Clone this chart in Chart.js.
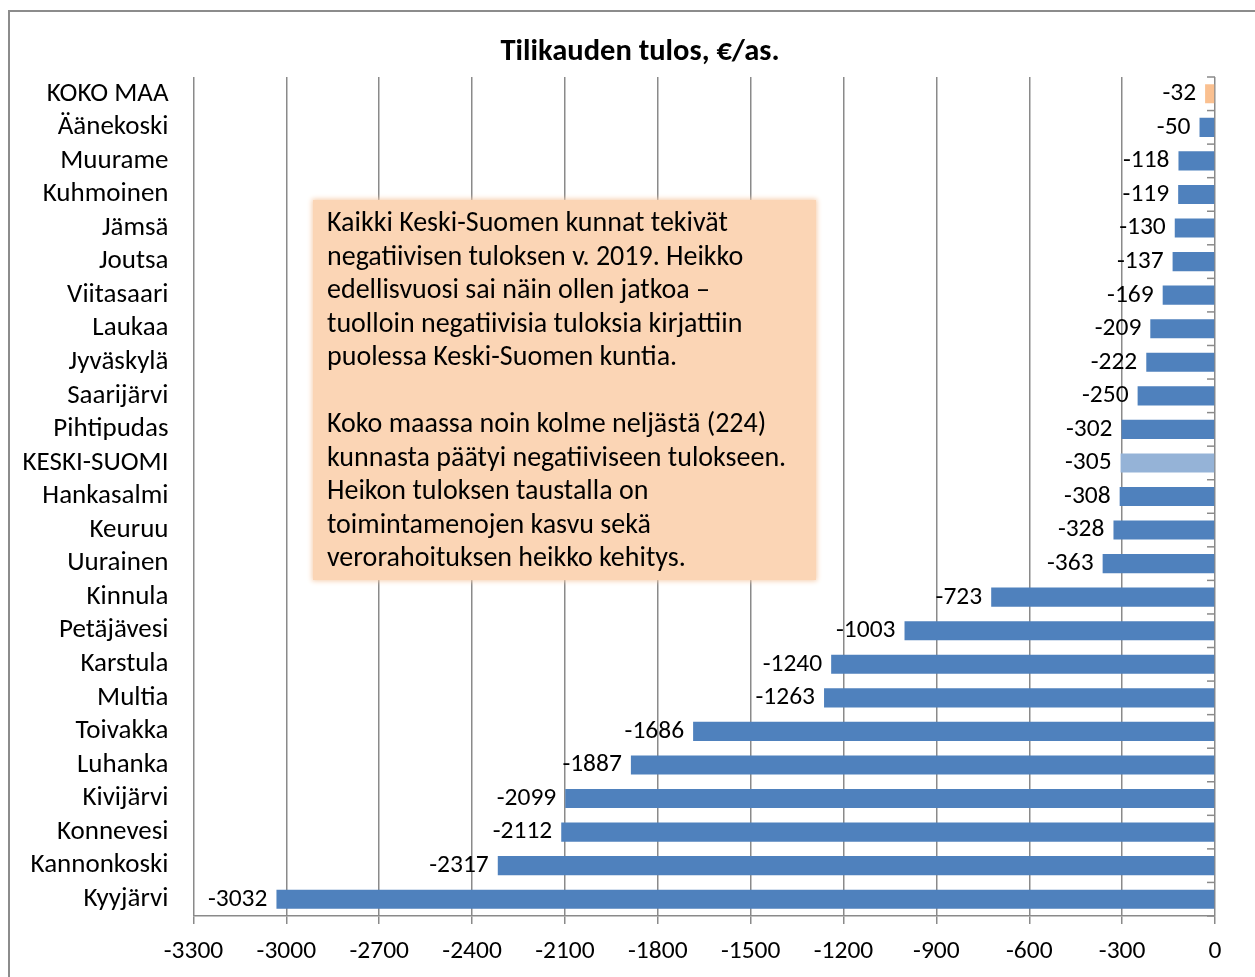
<!DOCTYPE html>
<html>
<head>
<meta charset="utf-8">
<script src="https://cdn.jsdelivr.net/npm/chart.js@4/dist/chart.umd.min.js"></script>
<style>
  html, body { margin: 0; padding: 0; background: #fff; overflow: hidden; }
  #wrap { position: relative; width: 1255px; height: 977px; }
  #frame { position: absolute; left: 8px; top: 10px; width: 1270px; height: 990px; border: 2px solid #8c8c8c; }
  canvas { position: absolute; left: 0; top: 0; }
  #note {
    position: absolute; left: 313px; top: 200px; width: 503px; height: 380px;
    box-sizing: border-box; padding: 5px 0 0 14px;
    background: #fbd5b5; box-shadow: 0 0 5px 1px #f6cfae;
    font-family: Carlito, Lato, sans-serif; font-size: 28px; line-height: 33.5px;
    color: #000; white-space: nowrap;
  }
</style>
</head>
<body>
<div id="wrap">
  <div id="frame"></div>
  <canvas id="myChart" width="1255" height="977"></canvas>
  <div id="note">Kaikki Keski-Suomen kunnat tekivät<br>negatiivisen tuloksen v. 2019. Heikko<br>edellisvuosi sai näin ollen jatkoa –<br>tuolloin negatiivisia tuloksia kirjattiin<br>puolessa Keski-Suomen kuntia.<br><br>Koko maassa noin kolme neljästä (224)<br>kunnasta päätyi negatiiviseen tulokseen.<br>Heikon tuloksen taustalla on<br>toimintamenojen kasvu sekä<br>verorahoituksen heikko kehitys.</div>
</div>
<script>
// Data
const categories = ['KOKO MAA', 'Äänekoski', 'Muurame', 'Kuhmoinen', 'Jämsä', 'Joutsa',
  'Viitasaari', 'Laukaa', 'Jyväskylä', 'Saarijärvi', 'Pihtipudas', 'KESKI-SUOMI',
  'Hankasalmi', 'Keuruu', 'Uurainen', 'Kinnula', 'Petäjävesi', 'Karstula', 'Multia',
  'Toivakka', 'Luhanka', 'Kivijärvi', 'Konnevesi', 'Kannonkoski', 'Kyyjärvi'];
const values = [-32, -50, -118, -119, -130, -137, -169, -209, -222, -250, -302, -305,
  -308, -328, -363, -723, -1003, -1240, -1263, -1686, -1887, -2099, -2112, -2317, -3032];
const xTickValues = [-3300, -3000, -2700, -2400, -2100, -1800, -1500, -1200, -900, -600, -300, 0];
const chartTitle = 'Tilikauden tulos, €/as.';

const FONT = 'Carlito, Lato, sans-serif';
const gridColor = '#8a8a8a';

function barColor(ctx) {
  const name = categories[ctx.dataIndex];
  if (name === 'KOKO MAA') return '#fac090';
  if (name === 'KESKI-SUOMI') return '#95b3d7';
  return '#4f81bd';
}

// title, value labels and the small tick marks on the zero axis
const extras = {
  id: 'extras',
  afterDatasetsDraw(chart) {
    const { ctx, scales: { x, y } } = chart;
    const x0 = x.getPixelForValue(0);
    const step = (y.bottom - y.top) / categories.length;
    ctx.save();
    ctx.strokeStyle = gridColor;
    ctx.lineWidth = 1.5;
    for (let i = 0; i <= categories.length; i++) {
      const yy = y.top + i * step;
      ctx.beginPath();
      ctx.moveTo(x0 - 8, yy);
      ctx.lineTo(x0, yy);
      ctx.stroke();
    }
    ctx.fillStyle = '#000';
    ctx.textBaseline = 'middle';
    ctx.textAlign = 'center';
    ctx.font = 'bold 30.5px ' + FONT;
    ctx.fillText(chartTitle, 640, 52);
    ctx.font = '25.5px ' + FONT;
    ctx.textAlign = 'right';
    chart.getDatasetMeta(0).data.forEach((bar, i) => {
      ctx.fillText(String(values[i]), bar.x - 9, bar.y);
    });
    ctx.restore();
  }
};

const ctx = document.getElementById('myChart').getContext('2d');
Chart.defaults.font.family = FONT;
Chart.defaults.color = '#000';

const myChart = new Chart(ctx, {
  type: 'bar',
  data: {
    labels: categories,
    datasets: [{
      data: values,
      backgroundColor: barColor,
      barPercentage: 0.57,
      categoryPercentage: 1
    }]
  },
  options: {
    indexAxis: 'y',
    responsive: false,
    animation: false,
    layout: { padding: { left: 0, right: 40, top: 77, bottom: 11.7 } },
    plugins: {
      legend: { display: false },
      tooltip: { enabled: false },
      title: { display: false }
    },
    scales: {
      x: {
        min: -3300,
        max: 0,
        afterBuildTicks: (scale) => { scale.ticks = xTickValues.map(v => ({ value: v })); },
        afterFit: (scale) => { scale.height = 49.3; },
        grid: { color: gridColor, lineWidth: 1.5, tickLength: 8, drawTicks: true },
        border: { color: gridColor, width: 1.5 },
        ticks: {
          padding: 12, maxRotation: 0, autoSkip: false, font: { size: 25.5 },
          callback: (v) => String(v)
        }
      },
      y: {
        afterFit: (scale) => { scale.width = 193.5; },
        grid: { display: false, drawTicks: false },
        border: { display: false },
        ticks: { padding: 25, labelOffset: 0, autoSkip: false, font: { size: 27 } }
      }
    }
  },
  plugins: [extras]
});
</script>
</body>
</html>
